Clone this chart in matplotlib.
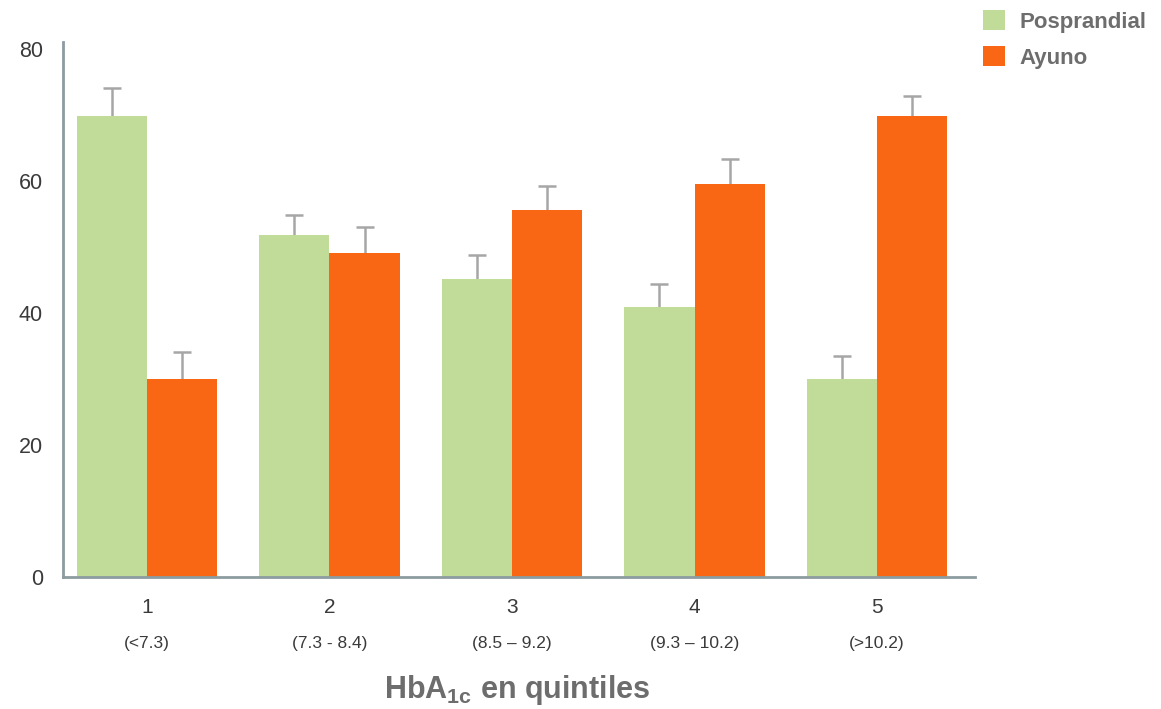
import matplotlib.pyplot as plt
import numpy as np

plt.rcParams['font.family'] = ['Liberation Sans', 'DejaVu Sans']
plt.rcParams['mathtext.fontset'] = 'custom'
plt.rcParams['mathtext.bf'] = 'Liberation Sans:bold'
plt.rcParams['mathtext.rm'] = 'Liberation Sans'

quintiles = ['1', '2', '3', '4', '5']
ranges = ['(<7.3)', '(7.3 - 8.4)', '(8.5 \u2013 9.2)', '(9.3 \u2013 10.2)', '(>10.2)']
posprandial = [69.8, 51.8, 45.1, 40.9, 30.0]
posprandial_err = [4.2, 3.0, 3.7, 3.5, 3.5]
ayuno = [30.0, 49.1, 55.6, 59.6, 69.9]
ayuno_err = [4.1, 3.9, 3.6, 3.7, 2.9]

green = '#c1dc98'
orange = '#f96614'
err_col = '#a6a6a6'
txt_col = '#6d6d6d'

fig = plt.figure(figsize=(11.61, 7.09), dpi=100)
ax = fig.add_axes([0.0543, 0.1855, 0.7855, 0.755])

x = np.arange(len(quintiles))
w = 0.385
b1 = ax.bar(x - w / 2, posprandial, w, color=green, label='Posprandial', zorder=2)
b2 = ax.bar(x + w / 2, ayuno, w, color=orange, label='Ayuno', zorder=2)

# upper-only error bars
for pos, vals, errs in [(x - w / 2, posprandial, posprandial_err), (x + w / 2, ayuno, ayuno_err)]:
    tops = np.array(vals) + np.array(errs)
    ax.vlines(pos, vals, tops, color=err_col, lw=1.8, zorder=1)
    ax.plot(pos, tops, ls='none', marker='_', ms=13, mew=1.8, color=err_col, zorder=1)

ax.set_xlim(-0.46, 4.537)
ax.set_ylim(0, 81)
ax.set_yticks([0, 20, 40, 60, 80])
ax.tick_params(axis='y', length=0, pad=14.5, labelsize=15.5, labelcolor='#3a3a3a')
ax.set_xticks(x, quintiles)
ax.tick_params(axis='x', length=0, pad=15, labelsize=15, labelcolor='#3a3a3a')
for xi, r in zip(x, ranges):
    ax.text(xi, -0.123, r, transform=ax.get_xaxis_transform(), ha='center', va='center',
            fontsize=12.5, color='#3a3a3a')

for s in ['top', 'right']:
    ax.spines[s].set_visible(False)
for s in ['left', 'bottom']:
    ax.spines[s].set_color('#8c9ca0')
    ax.spines[s].set_linewidth(2)

fig.text(517 / 1161, 1 - 698 / 709, 'HbA$_{\\mathbf{1c}}$ en quintiles', fontsize=22,
         fontweight='bold', color=txt_col, ha='center', va='baseline')

fig.legend(handles=[b1, b2], loc='upper left', bbox_to_anchor=(0.8295, 1.014), frameon=False,
           prop={'weight': 'bold', 'size': 16}, labelcolor=txt_col,
           handlelength=1.0, handleheight=1.0, handletextpad=0.65, labelspacing=0.62)

fig.savefig('out.png', dpi=100)
